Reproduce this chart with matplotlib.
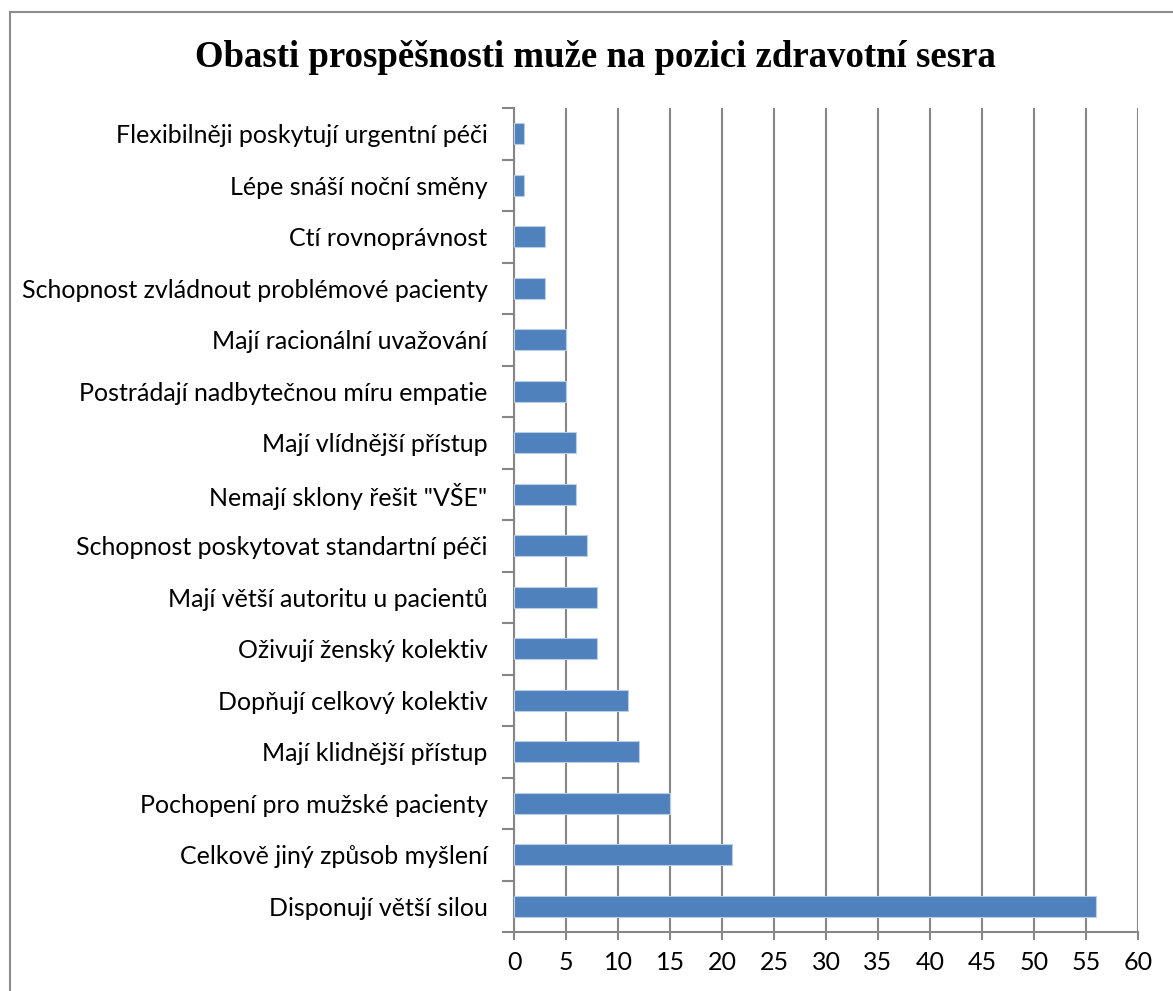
import matplotlib.pyplot as plt
from matplotlib.patches import Rectangle
import numpy as np

title = "Obasti prospěšnosti muže na pozici zdravotní sesra"
labels = [
    "Disponují větší silou",
    "Celkově jiný způsob myšlení",
    "Pochopení pro mužské pacienty",
    "Mají klidnější přístup",
    "Dopňují celkový kolektiv",
    "Oživují ženský kolektiv",
    "Mají větší autoritu u pacientů",
    "Schopnost poskytovat standartní péči",
    'Nemají sklony řešit "VŠE"',
    "Mají vlídnější přístup",
    "Postrádají nadbytečnou míru empatie",
    "Mají racionální uvažování",
    "Schopnost zvládnout problémové pacienty",
    "Ctí rovnoprávnost",
    "Lépe snáší noční směny",
    "Flexibilněji poskytují urgentní péči",
]
values = [56, 21, 15, 12, 11, 8, 8, 7, 6, 6, 5, 5, 3, 3, 1, 1]
x_ticks = list(range(0, 61, 5))

grid_color = "#868686"

fig = plt.figure(figsize=(11.73, 9.91), dpi=100)
ax = fig.add_axes([0.4382, 0.0595, 0.532, 0.8315])

pos = np.arange(len(labels))
ax.barh(pos, values, height=0.4, color="#4F81BD", edgecolor="#B9CDE5",
        linewidth=0.8, zorder=3)

ax.set_xlim(0, 60)
ax.set_ylim(-0.5, len(labels) - 0.5)
ax.set_xticks(x_ticks)
ax.set_xticklabels([str(t) for t in x_ticks], fontsize=18, family="Lato")

ax.set_yticks(pos)
ax.set_yticklabels(labels, fontsize=18, family="Lato")
ax.set_yticks(np.arange(len(labels) + 1) - 0.5, minor=True)
ax.tick_params(axis="y", which="major", length=0, pad=19)
ax.tick_params(axis="y", which="minor", length=9, width=1.5, color=grid_color)
ax.tick_params(axis="x", length=6, width=1.5, color=grid_color, pad=8)

ax.grid(axis="x", color=grid_color, linewidth=1.5, zorder=0)
for s in ["top", "right"]:
    ax.spines[s].set_visible(False)
for s in ["left", "bottom"]:
    ax.spines[s].set_color(grid_color)
    ax.spines[s].set_linewidth(1.5)

fig.text(0.508, 0.942, title, ha="center", va="center", fontsize=26.5,
         fontweight="bold", family="Liberation Serif")

# outer chart border (continues past the right and bottom edges)
fig.patches.append(Rectangle((10 / 1173, -0.1), 1.2, 0.1 + 1 - 12 / 991,
                             transform=fig.transFigure, fill=False,
                             edgecolor="#8C8C8C", linewidth=1.5))

fig.savefig("out.png", dpi=100)
